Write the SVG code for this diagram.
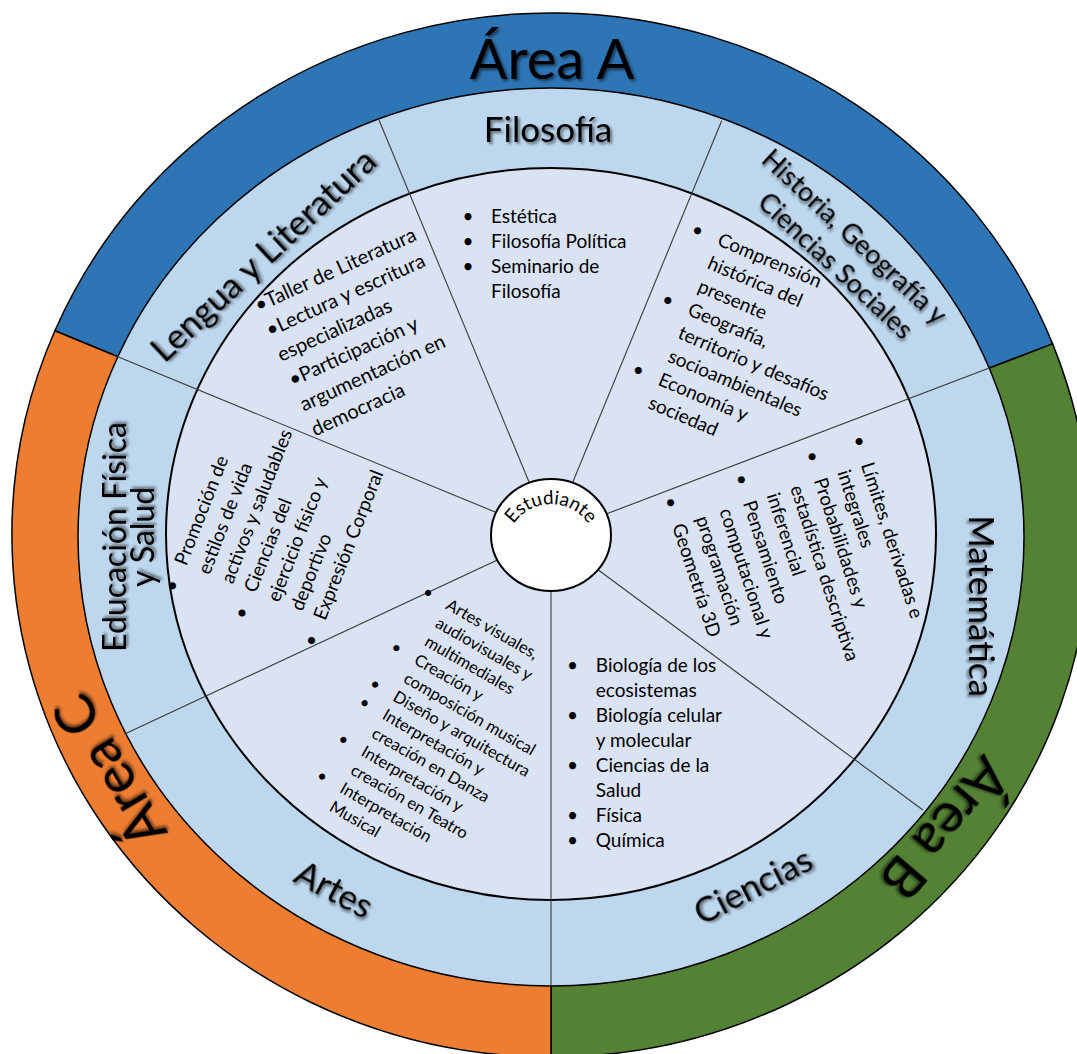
<svg xmlns="http://www.w3.org/2000/svg" width="1077" height="1054" viewBox="0 0 1077 1054">
<defs>
<style>
text{font-family:Lato,"Liberation Sans","DejaVu Sans",sans-serif;fill:#000}
.ar{font-size:56px;text-anchor:middle}
.hd{font-size:35px;text-anchor:middle}
.hs{font-size:27px;text-anchor:middle}
.ed{font-size:32px;text-anchor:middle}
.c{font-size:19px}
.cl{font-size:20px}
.cs{font-size:16.5px}
.b{text-anchor:middle}
.wedge{stroke:#000;stroke-width:1.5}
.spoke{stroke:#3a3a3a;stroke-width:1.1;fill:none}
</style>
<filter id="sh" x="-20%" y="-30%" width="140%" height="170%">
<feGaussianBlur in="SourceAlpha" stdDeviation="1.6"/>
<feOffset dx="1.5" dy="2" result="o"/>
<feComponentTransfer in="o" result="s"><feFuncA type="linear" slope="0.55"/></feComponentTransfer>
<feMerge><feMergeNode in="s"/><feMergeNode in="SourceGraphic"/></feMerge>
</filter>
<path id="arcE" d="M506.7,541.2 A45,45 0 0 1 595.3,541.2"/>
</defs>
<rect width="1077" height="1054" fill="#fff"/>

<g id="area-a">
<path class="wedge" fill="#2E75B6" d="M551,535 L54.9,330.8 A539,522 0 0 1 1052.6,343.9 Z"/>
<text class="ar" filter="url(#sh)" x="552" y="79">Área A</text>
</g>
<g id="area-b">
<path class="wedge" fill="#548235" d="M551,535 L1052.6,343.9 A539,522 0 0 1 551,1057 Z"/>
<text class="ar" filter="url(#sh)" transform="translate(945,828) rotate(130.5)" y="19">Área B</text>
</g>
<g id="area-c">
<path class="wedge" fill="#ED7D31" d="M551,535 L551,1057 A539,522 0 0 1 54.9,330.8 Z"/>
<text class="ar" filter="url(#sh)" transform="translate(110,771) rotate(-120.5)" y="19">Área C</text>
</g>

<g id="rings">
<ellipse cx="551" cy="537" rx="473" ry="449" fill="#BDD7EE" stroke="#000" stroke-width="1.5"/>
<ellipse cx="551" cy="534" rx="385" ry="366" fill="#DAE3F3" stroke="#000" stroke-width="2"/>
</g>

<g id="connectors">
<line class="spoke" x1="551" y1="535" x2="113.6" y2="355"/>
<line class="spoke" x1="551" y1="535" x2="379" y2="120"/>
<line class="spoke" x1="551" y1="535" x2="721.7" y2="120.7"/>
<line class="spoke" x1="551" y1="535" x2="988.6" y2="368.3"/>
<line class="spoke" x1="551" y1="535" x2="922.9" y2="810"/>
<line class="spoke" x1="551" y1="535" x2="551" y2="986"/>
<line class="spoke" x1="551" y1="535" x2="124.7" y2="734"/>
</g>

<g id="filosofia">
<text class="hd" filter="url(#sh)" x="548" y="142">Filosofía</text>
<text class="c b" x="468" y="223">•</text>
<text class="c b" x="468" y="248">•</text>
<text class="c b" x="468" y="273">•</text>
<text class="c"><tspan x="491" y="223">Estética</tspan><tspan x="491" y="248">Filosofía Política</tspan><tspan x="491" y="273">Seminario de</tspan><tspan x="491" y="298">Filosofía</tspan></text>
</g>

<g id="lengua">
<text class="hd" filter="url(#sh)" transform="translate(264,256) rotate(-43)" y="11">Lengua y Literatura</text>
<text class="cl" transform="translate(258.5,312.2) rotate(-24.5)"><tspan x="0" y="0">•Taller de Literatura</tspan><tspan x="0" y="27.3">•Lectura y escritura</tspan><tspan x="0" y="54.6">especializadas</tspan><tspan x="0" y="81.9">•Participación y</tspan><tspan x="0" y="109.2">argumentación en</tspan><tspan x="0" y="136.5">democracia</tspan></text>
</g>

<g id="historia">
<text class="hs" filter="url(#sh)" transform="translate(842,250) rotate(43)"><tspan x="0" y="-9">Historia, Geografía y</tspan><tspan x="6" y="25">Ciencias Sociales</tspan></text>
<g transform="translate(716.2,244.7) rotate(23)">
<text class="c b" x="-22.7" y="0">•</text>
<text class="c b" x="-22.7" y="75.9">•</text>
<text class="c b" x="-22.7" y="151.8">•</text>
<text class="c"><tspan x="0" y="0">Comprensión</tspan><tspan x="0" y="25.3">histórica del</tspan><tspan x="0" y="50.6">presente</tspan><tspan x="0" y="75.9">Geografía,</tspan><tspan x="0" y="101.2">territorio y desafíos</tspan><tspan x="0" y="126.5">socioambientales</tspan><tspan x="0" y="151.8">Economía y</tspan><tspan x="0" y="177.1">sociedad</tspan></text>
</g>
</g>

<g id="matematica">
<text class="hd" filter="url(#sh)" transform="translate(969,606) rotate(90)">Matemática</text>
<g transform="translate(860.8,464.8) rotate(72)">
<text class="c b" x="-22.7" y="0">•</text>
<text class="c b" x="-22.7" y="49.6">•</text>
<text class="c b" x="-22.7" y="124">•</text>
<text class="c b" x="-22.7" y="198.4">•</text>
<text class="c"><tspan x="0" y="0">Límites, derivadas e</tspan><tspan x="0" y="24.8">integrales</tspan><tspan x="0" y="49.6">Probabilidades y</tspan><tspan x="0" y="74.4">estadística descriptiva</tspan><tspan x="0" y="99.2">inferencial</tspan><tspan x="0" y="124">Pensamiento</tspan><tspan x="0" y="148.8">computacional y</tspan><tspan x="0" y="173.6">programación</tspan><tspan x="0" y="198.4">Geometría 3D</tspan></text>
</g>
</g>

<g id="ciencias">
<text class="hd" filter="url(#sh)" transform="translate(753.5,887) rotate(-27)" y="11">Ciencias</text>
<text class="c b" x="572.5" y="671.7">•</text>
<text class="c b" x="572.5" y="721.7">•</text>
<text class="c b" x="572.5" y="771.7">•</text>
<text class="c b" x="572.5" y="821.7">•</text>
<text class="c b" x="572.5" y="846.7">•</text>
<text class="c"><tspan x="595.8" y="671.7">Biología de los</tspan><tspan x="595.8" y="696.7">ecosistemas</tspan><tspan x="595.8" y="721.7">Biología celular</tspan><tspan x="595.8" y="746.7">y molecular</tspan><tspan x="595.8" y="771.7">Ciencias de la</tspan><tspan x="595.8" y="796.7">Salud</tspan><tspan x="595.8" y="821.7">Física</tspan><tspan x="595.8" y="846.7">Química</tspan></text>
</g>

<g id="artes">
<text class="hd" filter="url(#sh)" transform="translate(333.5,890.5) rotate(28)" y="11">Artes</text>
<g transform="translate(444.8,608.2) rotate(30)">
<text class="cs b" x="-22" y="0">•</text>
<text class="cs b" x="-22" y="63.6">•</text>
<text class="cs b" x="-22" y="106">•</text>
<text class="cs b" x="-22" y="127.2">•</text>
<text class="cs b" x="-22" y="169.6">•</text>
<text class="cs b" x="-22" y="212">•</text>
<text class="cs"><tspan x="0" y="0">Artes visuales,</tspan><tspan x="0" y="21.2">audiovisuales y</tspan><tspan x="0" y="42.4">multimediales</tspan><tspan x="0" y="63.6">Creación y</tspan><tspan x="0" y="84.8">composición musical</tspan><tspan x="0" y="106">Diseño y arquitectura</tspan><tspan x="0" y="127.2">Interpretación y</tspan><tspan x="0" y="148.4">creación en Danza</tspan><tspan x="0" y="169.6">Interpretación y</tspan><tspan x="0" y="190.8">creación en Teatro</tspan><tspan x="0" y="212">Interpretación</tspan><tspan x="0" y="233.2">Musical</tspan></text>
</g>
</g>

<g id="educacion">
<text class="ed" filter="url(#sh)" transform="translate(126,537) rotate(-90)"><tspan x="0" y="0">Educación Física</tspan><tspan x="0" y="28">y Salud</tspan></text>
<g transform="translate(186.3,566.4) rotate(-68.5)">
<text class="c b" x="-23" y="0">•</text>
<text class="c b" x="-23" y="74.7">•</text>
<text class="c b" x="-23" y="149.4">•</text>
<text class="c"><tspan x="0" y="0">Promoción de</tspan><tspan x="0" y="24.9">estilos de vida</tspan><tspan x="0" y="49.8">activos y saludables</tspan><tspan x="0" y="74.7">Ciencias del</tspan><tspan x="0" y="99.6">ejercicio físico y</tspan><tspan x="0" y="124.5">deportivo</tspan><tspan x="0" y="149.4">Expresión Corporal</tspan></text>
</g>
</g>

<g id="estudiante">
<ellipse cx="551" cy="535" rx="60" ry="56" fill="#fff" stroke="#000" stroke-width="2"/>
<text font-size="19"><textPath href="#arcE" startOffset="50%" text-anchor="middle">Estudiante</textPath></text>
</g>
</svg>
